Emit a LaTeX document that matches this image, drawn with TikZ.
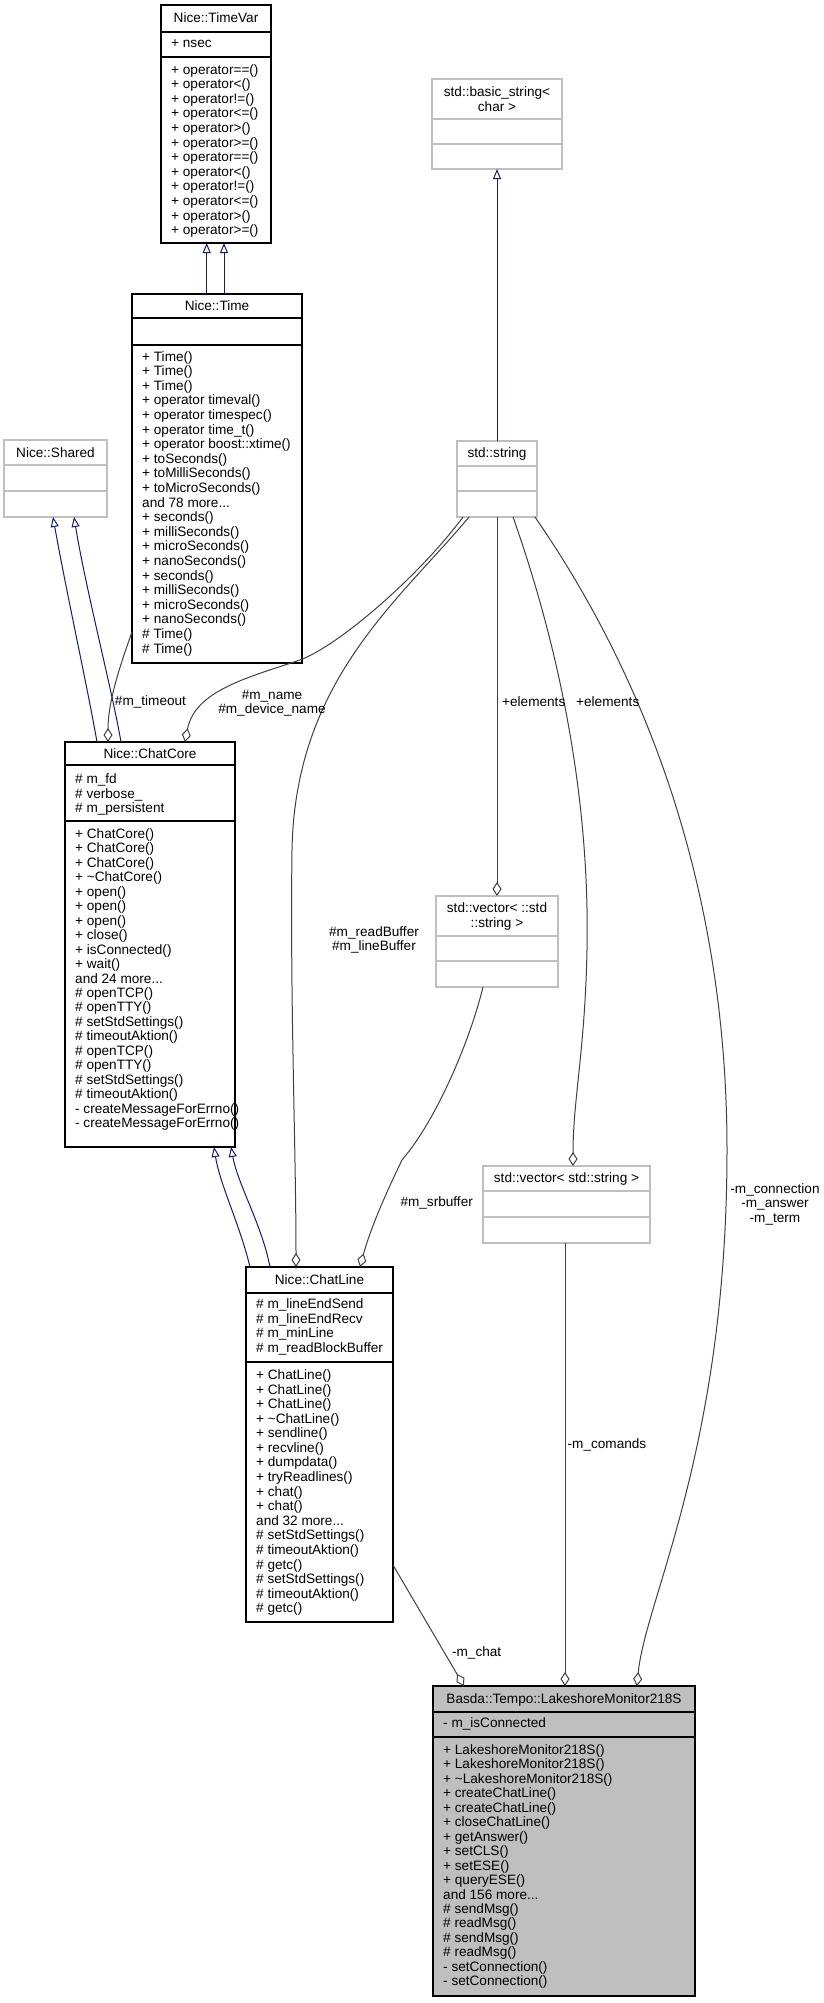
\documentclass[tikz,border=0pt]{standalone}
\usepackage{fontspec}
\setmainfont{Liberation Sans}
\usetikzlibrary{arrows.meta}
\definecolor{edgegray}{HTML}{404040}
\definecolor{navyline}{HTML}{191970}
\definecolor{boxgray}{HTML}{BFBFBF}

\begin{document}
\begin{tikzpicture}[x=1pt, y=-1pt,
  font=\fontsize{13.6}{14.5}\selectfont,
  classbox/.style={draw=black, line width=1.1pt, inner sep=0pt, outer sep=0pt, anchor=north west},
  extbox/.style={classbox, draw=boxgray},
  divider/.style={draw=black, line width=1.1pt},
  extdivider/.style={draw=boxgray, line width=1.1pt},
  headtext/.style={anchor=base, inner sep=0pt},
  membertext/.style={anchor=base west, inner sep=0pt},
  edgetext/.style={anchor=base, inner sep=0pt},
  inherit/.style={draw=navyline, line width=1pt, -{Triangle[open, length=10pt, width=8pt]}},
  aggr/.style={draw=edgegray, line width=1pt, -{Diamond[open, length=14pt, width=9pt]}}]
\useasboundingbox (0,0) rectangle (824,2003);

% Nice::TimeVar
\node[classbox, minimum width=110, minimum height=238] (timevar) at (161,5) {};
\foreach \y in {32,57} \draw[divider] (161,\y) -- (271,\y);
\node[headtext] (timevar-t) at (216,22) {Nice::TimeVar};
\node[membertext] (timevar-a) at (171,47) {+ nsec};
\foreach \entry [count=\i from 0] in {+ operator==(), + operator<(), + operator!=(), + operator<=(), + operator>(), + operator>=(), + operator==(), + operator<(), + operator!=(), + operator<=(), + operator>(), + operator>=()}
  \node[membertext] (timevar-m\i) at (171,74+14.6*\i) {\entry};

% Nice::Time
\node[classbox, minimum width=170, minimum height=369] (time) at (132,294) {};
\foreach \y in {318,345} \draw[divider] (132,\y) -- (302,\y);
\node[headtext] (time-t) at (217,310) {Nice::Time};
\foreach \entry [count=\i from 0] in {+ Time(), + Time(), + Time(), + operator timeval(), + operator timespec(), + operator time\_t(), + operator boost::xtime(), + toSeconds(), + toMilliSeconds(), + toMicroSeconds(), and 78 more{...}, + seconds(), + milliSeconds(), + microSeconds(), + nanoSeconds(), + seconds(), + milliSeconds(), + microSeconds(), + nanoSeconds(), \# Time(), \# Time()}
  \node[membertext] (time-m\i) at (142,361+14.6*\i) {\entry};

% Nice::Shared
\node[extbox, minimum width=103, minimum height=77] (shared) at (4,440) {};
\foreach \y in {465,491} \draw[extdivider] (4,\y) -- (107,\y);
\node[headtext] (shared-t) at (55.5,457) {Nice::Shared};

% std::basic_string< char >
\node[extbox, minimum width=130, minimum height=90] (bstring) at (432,79) {};
\foreach \y in {119,144} \draw[extdivider] (432,\y) -- (562,\y);
\node[headtext] (bstring-t1) at (497,96) {std::basic\_string<};
\node[headtext] (bstring-t2) at (497,111.5) {char >};

% std::string
\node[extbox, minimum width=80, minimum height=76] (string) at (457,441) {};
\foreach \y in {466,491} \draw[extdivider] (457,\y) -- (537,\y);
\node[headtext] (string-t) at (497,457) {std::string};

% Nice::ChatCore
\node[classbox, minimum width=170, minimum height=405] (chatcore) at (65,742) {};
\foreach \y in {765,821} \draw[divider] (65,\y) -- (235,\y);
\node[headtext] (chatcore-t) at (150,758) {Nice::ChatCore};
\foreach \entry [count=\i from 0] in {\# m\_fd, \# verbose\_, \# m\_persistent}
  \node[membertext] (chatcore-a\i) at (75,783.5+14.5*\i) {\entry};
\foreach \entry [count=\i from 0] in {+ ChatCore(), + ChatCore(), + ChatCore(), + \textasciitilde ChatCore(), + open(), + open(), + open(), + close(), + isConnected(), + wait(), and 24 more{...}, \# openTCP(), \# openTTY(), \# setStdSettings(), \# timeoutAktion(), \# openTCP(), \# openTTY(), \# setStdSettings(), \# timeoutAktion(), - createMessageForErrno(), - createMessageForErrno()}
  \node[membertext] (chatcore-m\i) at (75,838.5+14.45*\i) {\entry};

% std::vector< ::std::string >
\node[extbox, minimum width=122, minimum height=91] (vecstd) at (436,896) {};
\foreach \y in {936,961} \draw[extdivider] (436,\y) -- (558,\y);
\node[headtext] (vecstd-t1) at (497,912) {std::vector< ::std};
\node[headtext] (vecstd-t2) at (497,927.5) {::string >};

% std::vector< std::string >
\node[extbox, minimum width=167, minimum height=77] (vecstring) at (483,1166) {};
\foreach \y in {1191,1217} \draw[extdivider] (483,\y) -- (650,\y);
\node[headtext] (vecstring-t) at (566.5,1182) {std::vector< std::string >};

% Nice::ChatLine
\node[classbox, minimum width=147, minimum height=355] (chatline) at (246,1267) {};
\foreach \y in {1293,1362} \draw[divider] (246,\y) -- (393,\y);
\node[headtext] (chatline-t) at (319.5,1284.5) {Nice::ChatLine};
\foreach \entry [count=\i from 0] in {\# m\_lineEndSend, \# m\_lineEndRecv, \# m\_minLine, \# m\_readBlockBuffer}
  \node[membertext] (chatline-a\i) at (256,1308.5+14.6*\i) {\entry};
\foreach \entry [count=\i from 0] in {+ ChatLine(), + ChatLine(), + ChatLine(), + \textasciitilde ChatLine(), + sendline(), + recvline(), + dumpdata(), + tryReadlines(), + chat(), + chat(), and 32 more{...}, \# setStdSettings(), \# timeoutAktion(), \# getc(), \# setStdSettings(), \# timeoutAktion(), \# getc()}
  \node[membertext] (chatline-m\i) at (256,1379.5+14.58*\i) {\entry};

% Basda::Tempo::LakeshoreMonitor218S
\node[classbox, fill=boxgray, minimum width=262, minimum height=310] (lakeshore) at (433,1686) {};
\foreach \y in {1712,1737} \draw[divider] (433,\y) -- (695,\y);
\node[headtext] (lakeshore-t) at (564,1703) {Basda::Tempo::LakeshoreMonitor218S};
\node[membertext] (lakeshore-a) at (443,1727) {- m\_isConnected};
\foreach \entry [count=\i from 0] in {+ LakeshoreMonitor218S(), + LakeshoreMonitor218S(), + \textasciitilde LakeshoreMonitor218S(), + createChatLine(), + createChatLine(), + closeChatLine(), + getAnswer(), + setCLS(), + setESE(), + queryESE(), and 156 more{...}, \# sendMsg(), \# readMsg(), \# sendMsg(), \# readMsg(), - setConnection(), - setConnection()}
  \node[membertext] (lakeshore-m\i) at (443,1754.5+14.45*\i) {\entry};

% inheritance
\draw[inherit] ([xshift=74.7]time.north west) -- ([xshift=45.7]timevar.south west);
\draw[inherit] ([xshift=92]time.north west) -- ([xshift=63]timevar.south west);
\draw[inherit] (string.north) -- (bstring.south);
\draw[inherit] ([xshift=32]chatcore.north west) .. controls (88,690) and (66,590) .. ([xshift=49]shared.south west);
\draw[inherit] ([xshift=56]chatcore.north west) .. controls (112,690) and (86,590) .. ([xshift=70]shared.south west);
\draw[inherit] ([xshift=4]chatline.north west) .. controls (240,1225) and (220,1185) .. ([xshift=149]chatcore.south west);
\draw[inherit] ([xshift=24]chatline.north west) .. controls (262,1225) and (238,1185) .. ([xshift=166]chatcore.south west);

% members
\draw[aggr] ([yshift=31]time.south west) .. controls (122,660) and (108,700) .. ([xshift=43]chatcore.north west);
\draw[aggr] ([xshift=6]string.south west) .. controls (420,575) and (340,645) .. (300,660) .. controls (250,677) and (195,690) .. ([xshift=120]chatcore.north west);
\draw[aggr] ([xshift=12]string.south west) .. controls (400,600) and (295,680) .. (292,850) .. controls (290,1000) and (296,1150) .. ([xshift=50]chatline.north west);
\draw[aggr] (string.south) -- (vecstd.north);
\draw[aggr] ([xshift=56]string.south west) .. controls (560,650) and (590,800) .. (587,950) .. controls (585,1050) and (573,1100) .. ([xshift=90]vecstring.north west);
\draw[aggr] ([xshift=78]string.south west) .. controls (620,640) and (727,850) .. (727,1150) .. controls (727,1450) and (645,1600) .. ([xshift=204]lakeshore.north west);
\draw[aggr] ([xshift=47]vecstd.south west) .. controls (470,1040) and (440,1110) .. (410,1150) -- (402,1160) .. controls (385,1195) and (370,1230) .. ([xshift=114]chatline.north west);
\draw[aggr] ([xshift=82]vecstring.south west) -- ([xshift=132]lakeshore.north west);
\draw[aggr] ([yshift=57]chatline.south east) -- ([xshift=31]lakeshore.north west);

% edge labels
\node[edgetext] (lbl-timeout) at (150.5,705.5) {\#m\_timeout};
\node[edgetext] (lbl-name1) at (272,699) {\#m\_name};
\node[edgetext] (lbl-name2) at (272,713) {\#m\_device\_name};
\node[edgetext] (lbl-read1) at (374,936) {\#m\_readBuffer};
\node[edgetext] (lbl-read2) at (374,950.5) {\#m\_lineBuffer};
\node[edgetext, anchor=base west] (lbl-elem1) at (502,706) {+elements};
\node[edgetext, anchor=base west] (lbl-elem2) at (576,706) {+elements};
\node[edgetext] (lbl-srbuf) at (436.7,1206.5) {\#m\_srbuffer};
\foreach \entry [count=\i from 0] in {-m\_connection, -m\_answer, -m\_term}
  \node[edgetext] (lbl-conn\i) at (775,1193+14.5*\i) {\entry};
\node[edgetext] (lbl-cmd) at (607,1448) {-m\_comands};
\node[edgetext] (lbl-chat) at (476.7,1656.5) {-m\_chat};
\end{tikzpicture}
\end{document}
